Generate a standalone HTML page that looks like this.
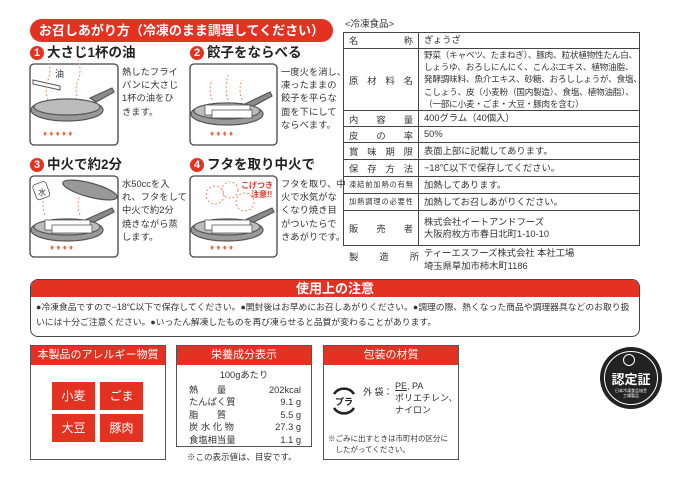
<!DOCTYPE html>
<html><head><meta charset="utf-8">
<style>
*{margin:0;padding:0;box-sizing:border-box}
body{width:693px;height:477px;background:#fff;position:relative;overflow:hidden;font-family:"Liberation Sans","Noto Sans CJK JP",sans-serif;color:#333}
.a{position:absolute}
.pill{left:30px;top:19px;width:303px;height:23px;background:#e43222;border-radius:12px;color:#fff;font-size:13px;line-height:23px;text-align:center;font-weight:bold}
.h{font-size:13.5px;font-weight:bold;color:#222;line-height:16px;white-space:nowrap}
.num{display:inline-block;width:14px;height:14px;border-radius:50%;background:#e43222;color:#fff;font-size:11px;line-height:14px;text-align:center;vertical-align:1px;margin-right:3px}
.st{font-size:9.3px;line-height:13.2px;color:#333}
.row{position:absolute;left:343px;width:297px;border:1px solid #444;border-top:none;font-size:9.3px;color:#333}
.row .l{position:absolute;left:0;top:0;bottom:0;width:75px;border-right:1px solid #444;display:flex;align-items:center;padding:0 5px}
.row .l span{display:block;width:100%;text-align:justify;text-align-last:justify}
.row .r{position:absolute;left:80px;top:0;bottom:0;right:0;display:flex;align-items:center;white-space:nowrap;line-height:12.3px}
.sec{border:1px solid #555;background:#fff}
.sech{background:#e43222;color:#fff;font-size:11px;text-align:center;height:19px;line-height:19px}
.sq{width:43px;height:28px;background:#e43222;color:#fff;font-size:12px;text-align:center;line-height:28px}
</style></head><body>
<div class="a pill">お召しあがり方（冷凍のまま調理してください）</div>

<div class="a h" style="left:30px;top:45px"><span class="num">1</span>大さじ1杯の油</div>
<div class="a h" style="left:190px;top:45px"><span class="num">2</span>餃子をならべる</div>
<div class="a h" style="left:30px;top:157px"><span class="num">3</span>中火で約2分</div>
<div class="a h" style="left:190px;top:157px"><span class="num">4</span>フタを取り中火で</div>

<svg class="a" style="left:0;top:0" width="340" height="270">
<g fill="none" stroke="#444" stroke-width="1.3">
<rect x="30" y="64" width="88" height="81" rx="4" fill="#fff"/>
<rect x="190" y="64" width="87" height="81" rx="4" fill="#fff"/>
<rect x="30" y="176" width="88" height="81" rx="4" fill="#fff"/>
<rect x="190" y="176" width="87" height="81" rx="4" fill="#fff"/>
</g>
<g stroke="#555" stroke-width="1.2">
<path d="M90 98 L112 88 L114 92 L96 102Z" fill="#8a8a8a"/>
<ellipse cx="67" cy="110" rx="36" ry="11" fill="#9a9a9a"/>
<ellipse cx="67" cy="107" rx="33" ry="8" fill="#bcbcbc"/>
<path d="M245 104 L270 92 L272 96 L250 108Z" fill="#8a8a8a"/>
<ellipse cx="227" cy="114" rx="36" ry="11" fill="#9a9a9a"/>
<ellipse cx="227" cy="111" rx="33" ry="8" fill="#bcbcbc"/>
<path d="M85 220 L112 208 L114 212 L90 224Z" fill="#8a8a8a"/>
<ellipse cx="67" cy="230" rx="36" ry="11" fill="#9a9a9a"/>
<ellipse cx="67" cy="227" rx="33" ry="8" fill="#bcbcbc"/>
<path d="M245 220 L272 208 L274 212 L250 224Z" fill="#8a8a8a"/>
<ellipse cx="227" cy="230" rx="36" ry="11" fill="#9a9a9a"/>
<ellipse cx="227" cy="227" rx="33" ry="8" fill="#bcbcbc"/>
<ellipse cx="90" cy="190" rx="28" ry="7" fill="#999" transform="rotate(15 90 190)"/>
</g>
<g fill="#fff" stroke="#555" stroke-width="0.8">
<rect x="205" y="105" width="45" height="10"/><rect x="212" y="110" width="40" height="8"/>
<rect x="45" y="220" width="45" height="10"/><rect x="52" y="225" width="40" height="8"/>
<rect x="205" y="220" width="45" height="10"/><rect x="212" y="225" width="40" height="8"/>
<rect x="34" y="183" width="14" height="16" rx="3" transform="rotate(-20 40 190)"/>
</g>
<path d="M33 80 L60 86 L60 90 L33 84Z" fill="#fff" stroke="#555"/>
<text x="55" y="77" font-size="9" fill="#333">油</text>
<text x="38" y="195" font-size="8" fill="#333">水</text>
<text x="241" y="188" font-size="8" fill="#e43222" font-weight="bold">こげつき</text>
<text x="251" y="197" font-size="8" fill="#e43222" font-weight="bold">注意!!</text>
<g fill="#ef6a4a" font-size="8">
<text x="43" y="136">♦ ♦ ♦ ♦ ♦</text>
<text x="50" y="250">♦ ♦ ♦ ♦</text>
<text x="210" y="250">♦ ♦ ♦ ♦</text>
<text x="210" y="136">♦ ♦ ♦ ♦</text>
</g>
<g fill="none" stroke="#f08a6a" stroke-width="1" stroke-dasharray="2 2">
<path d="M48 100 q-4-10 0-20 q4-10 0-20"/><path d="M78 100 q-4-10 0-20 q4-10 0-20"/>
<path d="M212 100 q-4-10 0-20"/><path d="M228 100 q-4-10 0-25"/><path d="M242 100 q-4-10 0-20"/>
<path d="M45 215 q-4-10 0-20"/><path d="M80 215 q-4-10 0-20"/>
<circle cx="215" cy="195" r="9"/><circle cx="245" cy="202" r="9"/><circle cx="230" cy="190" r="8"/>
</g>
</svg>

<div class="a st" style="left:122px;top:66px">熱したフライ<br>パンに大さじ<br>1杯の油をひ<br>きます。</div>
<div class="a st" style="left:281px;top:66px">一度火を消し、<br>凍ったままの<br>餃子を平らな<br>面を下にして<br>ならべます。</div>
<div class="a st" style="left:122px;top:178px">水50ccを入<br>れ、フタをして<br>中火で約2分<br>焼きながら蒸<br>します。</div>
<div class="a st" style="left:281px;top:178px">フタを取り、中<br>火で水気がな<br>くなり焼き目<br>がついたらで<br>きあがりです。</div>

<div class="a" style="left:345px;top:16px;font-size:9.5px">&lt;冷凍食品&gt;</div>
<div class="a" style="left:343px;top:32px;width:297px;border-top:1px solid #444"></div>
<div class="row" style="top:32px;height:17px"><div class="l"><span>名称</span></div><div class="r">ぎょうざ</div></div>
<div class="row" style="top:49px;height:62px"><div class="l"><span>原材料名</span></div><div class="r" style="font-size:8.6px;letter-spacing:-0.2px">野菜（キャベツ、たまねぎ）、豚肉、粒状植物性たん白、<br>しょうゆ、おろしにんにく、こんぶエキス、植物油脂、<br>発酵調味料、魚介エキス、砂糖、おろししょうが、食塩、<br>こしょう、皮〔小麦粉（国内製造）、食塩、植物油脂〕、<br>（一部に小麦・ごま・大豆・豚肉を含む）</div></div>
<div class="row" style="top:111px;height:16px"><div class="l"><span>内容量</span></div><div class="r">400グラム（40個入）</div></div>
<div class="row" style="top:127px;height:16px"><div class="l"><span>皮の率</span></div><div class="r">50%</div></div>
<div class="row" style="top:143px;height:17px"><div class="l"><span>賞味期限</span></div><div class="r">表面上部に記載してあります。</div></div>
<div class="row" style="top:160px;height:17px"><div class="l"><span>保存方法</span></div><div class="r">−18℃以下で保存してください。</div></div>
<div class="row" style="top:177px;height:17px"><div class="l" style="font-size:7.2px"><span>凍結前加熱の有無</span></div><div class="r">加熱してあります。</div></div>
<div class="row" style="top:194px;height:17px"><div class="l" style="font-size:7.2px"><span>加熱調理の必要性</span></div><div class="r">加熱してお召しあがりください。</div></div>
<div class="row" style="top:211px;height:35px"><div class="l"><span>販売者</span></div><div class="r">株式会社イートアンドフーズ<br>大阪府枚方市春日北町1-10-10</div></div>
<div class="a" style="left:349px;top:249px;width:70px;font-size:9.3px;text-align:justify;text-align-last:justify">製造所</div>
<div class="a" style="left:424px;top:247px;font-size:9.3px;line-height:13px">ティーエスフーズ株式会社 本社工場<br>埼玉県草加市柿木町1186</div>

<div class="a" style="left:30px;top:279px;width:610px;height:58px;border:1.3px solid #444;border-radius:8px;overflow:hidden">
<div style="background:#e43222;color:#fff;font-size:13px;font-weight:bold;text-align:center;height:17px;line-height:17px">使用上の注意</div>
<div style="font-size:8.8px;line-height:15px;padding:3px 6px 0 5px;color:#333">●冷凍食品ですので−18℃以下で保存してください。●開封後はお早めにお召しあがりください。●調理の際、熱くなった商品や調理器具などのお取り扱いには十分ご注意ください。●いったん解凍したものを再び凍らせると品質が変わることがあります。</div>
</div>

<div class="a sec" style="left:30px;top:345px;width:136px;height:115px"><div class="sech">本製品のアレルギー物質</div></div>
<div class="a sq" style="left:52px;top:382px">小麦</div>
<div class="a sq" style="left:100px;top:382px">ごま</div>
<div class="a sq" style="left:52px;top:414px">大豆</div>
<div class="a sq" style="left:100px;top:414px">豚肉</div>

<div class="a sec" style="left:176px;top:345px;width:136px;height:102px"><div class="sech">栄養成分表示</div>
<div style="font-size:9.3px;line-height:12.5px;padding:4px 0 0 0">
<div style="text-align:center">100gあたり</div>
<div style="padding:2px 10px 0 12px">
<div style="display:flex;justify-content:space-between"><span>熱　　量</span><span>202kcal</span></div>
<div style="display:flex;justify-content:space-between"><span>たんぱく質</span><span>9.1 g</span></div>
<div style="display:flex;justify-content:space-between"><span>脂　　質</span><span>5.5 g</span></div>
<div style="display:flex;justify-content:space-between"><span>炭 水 化 物</span><span>27.3 g</span></div>
<div style="display:flex;justify-content:space-between"><span>食塩相当量</span><span>1.1 g</span></div>
</div></div></div>
<div class="a" style="left:187px;top:451px;font-size:8.5px">※この表示値は、目安です。</div>

<div class="a sec" style="left:323px;top:345px;width:136px;height:115px"><div class="sech">包装の材質</div>
<svg class="a" style="left:5px;top:40px" width="30" height="30"><path d="M5 8 A12 12 0 0 1 25 8 M25 22 A12 12 0 0 1 5 22" fill="none" stroke="#222" stroke-width="2.5"/><text x="6" y="19" font-size="9" font-weight="bold" fill="#222">プラ</text></svg>
<div class="a" style="left:39px;top:40px;font-size:9px;line-height:12px">外 袋：</div>
<div class="a" style="left:71px;top:34px;font-size:9px;line-height:12px"><u>PE</u>, PA<br>ポリエチレン、<br>ナイロン</div>
<div class="a" style="left:4px;top:87px;font-size:7.5px;line-height:11px">※ごみに出すときは市町村の区分に<br>　したがってください。</div>
</div>

<div class="a" style="left:600px;top:347px;width:62px;height:62px;border-radius:50%;background:#222;"></div>
<div class="a" style="left:604px;top:351px;width:54px;height:54px;border-radius:50%;border:1px solid #fff"></div>
<div class="a" style="left:600px;top:369px;width:62px;text-align:center;color:#fff;font-size:13px;font-weight:bold">認定証</div>
<div class="a" style="left:600px;top:388px;width:62px;text-align:center;color:#fff;font-size:4px;line-height:5px">日本冷凍食品協会<br>工場製品</div>
<div class="a" style="left:623px;top:354px;width:12px;height:12px;border-radius:50%;border:1px solid #fff"></div>
</body></html>
